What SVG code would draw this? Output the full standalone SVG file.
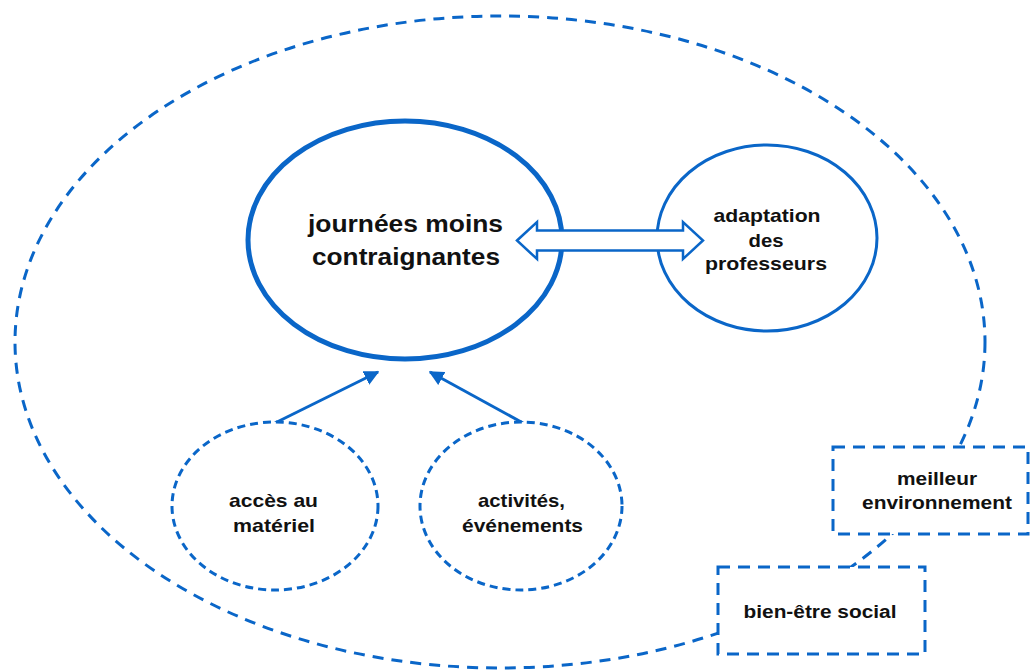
<svg xmlns="http://www.w3.org/2000/svg" width="1031" height="672" viewBox="0 0 1031 672">
  <defs>
    <style>
      .txt { font-family: "Liberation Sans", Arial, sans-serif; font-weight: bold; fill: #111; text-anchor: middle; }
      .solid { fill: #fff; stroke: #0a66c8; }
      .dash { fill: #fff; stroke: #0a66c8; stroke-width: 3; }
      .conn { stroke: #0a66c8; stroke-width: 3; fill: none; }
    </style>
    <marker id="arr" viewBox="0 0 10 10" refX="9" refY="5" markerWidth="5" markerHeight="5" orient="auto" markerUnits="strokeWidth">
      <path d="M0,0 L10,5 L0,10 z" fill="#0a66c8"/>
    </marker>
  </defs>
  <rect width="1031" height="672" fill="#fff"/>

  <g id="outer">
    <ellipse cx="500" cy="342" rx="485" ry="326" fill="none" stroke="#0a66c8" stroke-width="3" stroke-dasharray="11 8"/>
  </g>

  <g id="connectors">
    <line class="conn" x1="275" y1="423" x2="378" y2="372" marker-end="url(#arr)"/>
    <line class="conn" x1="523" y1="423" x2="430" y2="372" marker-end="url(#arr)"/>
  </g>

  <g id="journees">
    <ellipse class="solid" cx="405" cy="240" rx="157" ry="119" stroke-width="5"/>
    <text class="txt" font-size="23" x="405.5" y="232" textLength="195" lengthAdjust="spacingAndGlyphs">journées moins</text>
    <text class="txt" font-size="23" x="406" y="265" textLength="188" lengthAdjust="spacingAndGlyphs">contraignantes</text>
  </g>

  <g id="adaptation">
    <ellipse class="solid" cx="767" cy="238" rx="110" ry="93" stroke-width="3"/>
    <text class="txt" font-size="19" x="767" y="222" textLength="107" lengthAdjust="spacingAndGlyphs">adaptation</text>
    <text class="txt" font-size="19" x="766" y="247" textLength="35" lengthAdjust="spacingAndGlyphs">des</text>
    <text class="txt" font-size="19" x="766" y="270" textLength="122" lengthAdjust="spacingAndGlyphs">professeurs</text>
  </g>

  <g id="double-arrow">
    <path d="M517,240.5 L537,222 L537,230.5 L683,230.5 L683,222 L703,240.5 L683,259 L683,250.5 L537,250.5 L537,259 Z" fill="#fff" stroke="#0a66c8" stroke-width="2.5" stroke-linejoin="miter"/>
  </g>

  <g id="acces">
    <ellipse class="dash" cx="275" cy="506" rx="103" ry="84" stroke-dasharray="8 5"/>
    <text class="txt" font-size="19" x="273.5" y="507" textLength="89" lengthAdjust="spacingAndGlyphs">accès au</text>
    <text class="txt" font-size="19" x="274" y="532" textLength="82" lengthAdjust="spacingAndGlyphs">matériel</text>
  </g>

  <g id="activites">
    <ellipse class="dash" cx="521" cy="506" rx="101" ry="84" stroke-dasharray="8 5"/>
    <text class="txt" font-size="19" x="521.5" y="507" textLength="87" lengthAdjust="spacingAndGlyphs">activités,</text>
    <text class="txt" font-size="19" x="522.5" y="532" textLength="121" lengthAdjust="spacingAndGlyphs">événements</text>
  </g>

  <g id="meilleur">
    <rect class="dash" x="833" y="447" width="195" height="87" stroke-dasharray="12 8"/>
    <text class="txt" font-size="18" x="937" y="485" textLength="80" lengthAdjust="spacingAndGlyphs">meilleur</text>
    <text class="txt" font-size="18" x="937" y="509" textLength="150" lengthAdjust="spacingAndGlyphs">environnement</text>
  </g>

  <g id="bienetre">
    <rect class="dash" x="718" y="567" width="207" height="87" stroke-dasharray="12 8"/>
    <text class="txt" font-size="18" x="820" y="618" textLength="153" lengthAdjust="spacingAndGlyphs">bien-être social</text>
  </g>
</svg>
